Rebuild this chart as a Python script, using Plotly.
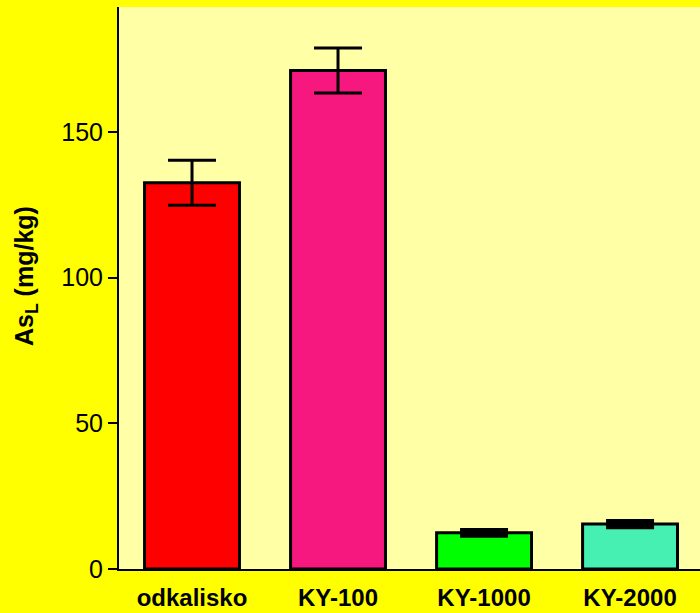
import plotly.graph_objects as go

# Labile arsenic content per sampling site
sites = ["odkalisko", "KY-100", "KY-1000", "KY-2000"]
as_l = [132.5, 171.0, 12.4, 15.4]
as_l_err = [7.7, 7.7, 0.8, 0.9]
bar_colors = ["#FF0000", "#F7187F", "#00FF00", "#45F0B2"]

FONT = "Liberation Sans, Arial, sans-serif"

fig = go.Figure()
# Large-value sites: thin error bars
fig.add_trace(go.Bar(
    x=sites[:2],
    y=as_l[:2],
    width=0.65,
    marker=dict(color=bar_colors[:2], line=dict(color="black", width=3)),
    error_y=dict(type="data", array=as_l_err[:2], visible=True,
                 color="black", thickness=3, width=24),
    showlegend=False,
))
# Small-value sites: heavier error caps so they read at this scale
fig.add_trace(go.Bar(
    x=sites[2:],
    y=as_l[2:],
    width=0.65,
    marker=dict(color=bar_colors[2:], line=dict(color="black", width=3)),
    error_y=dict(type="data", array=as_l_err[2:], visible=True,
                 color="black", thickness=5, width=24),
    showlegend=False,
))

fig.update_layout(
    width=700,
    height=613,
    barmode="overlay",
    margin=dict(l=119, r=0, t=7, b=44),
    paper_bgcolor="#FFFF00",
    plot_bgcolor="#FFFFA6",
    font=dict(family=FONT, color="black"),
)

fig.update_xaxes(
    categoryorder="array", categoryarray=sites,
    range=[-0.5, 3.479],
    showline=True, linecolor="black", linewidth=1.5,
    ticks="", showgrid=False,
    ticklabelstandoff=6,
    tickfont=dict(size=24, family=FONT, weight="bold"),
)

fig.update_yaxes(
    range=[0, 192.8],
    tickvals=[0, 50, 100, 150],
    showline=True, linecolor="black", linewidth=2,
    ticks="outside", ticklen=9, tickwidth=2, tickcolor="black",
    showgrid=False, zeroline=False,
    tickfont=dict(size=25),
)

# Y-axis title, placed as an annotation so it can sit slightly above centre
fig.add_annotation(
    text="<b>As<sub>L</sub> (mg/kg)</b>",
    xref="paper", yref="paper", x=0, y=0.5,
    xanchor="center", yanchor="middle",
    xshift=-93, yshift=12,
    textangle=-90, showarrow=False,
    font=dict(size=25, family=FONT, color="black"),
)

fig.write_html("out.html")
